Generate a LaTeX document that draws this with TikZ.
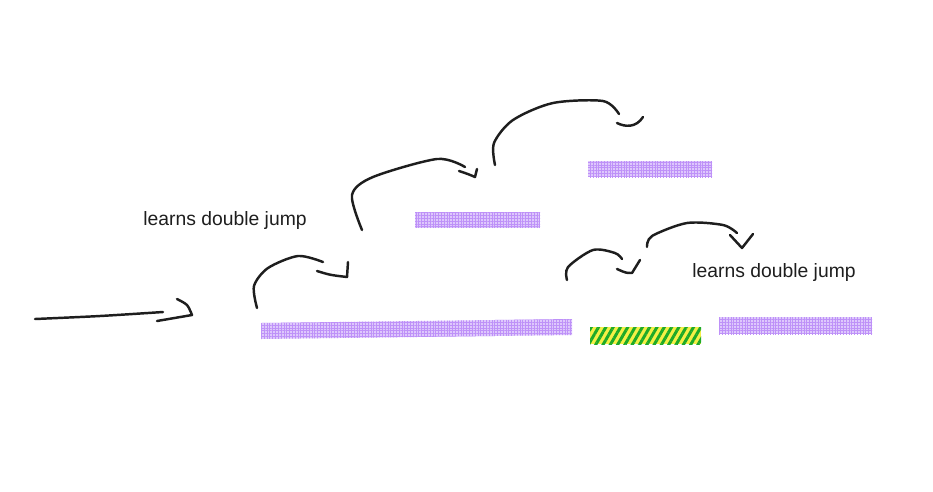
\documentclass[tikz,border=0pt]{standalone}
\usepackage{fontspec}
\setmainfont{Liberation Sans}
\usetikzlibrary{patterns.meta}

\definecolor{ink}{RGB}{30,30,30}
\definecolor{lilac}{RGB}{222,200,252}
\definecolor{lilacgrid}{RGB}{190,145,248}
\definecolor{spikeyellow}{RGB}{245,240,70}
\definecolor{spikegreen}{RGB}{30,170,40}

\tikzset{
  pen/.style={draw=ink, line width=1.4pt, line cap=round, line join=round},
  platform/.style={fill=lilac, pattern color=lilacgrid,
    postaction={pattern={Hatch[distance=1.6pt, line width=0.45pt]}, pattern color=lilacgrid}},
  spikes/.style={fill=spikeyellow,
    postaction={pattern={Lines[angle=60, distance=3.6pt, line width=1.7pt]}, pattern color=spikegreen}},
  note/.style={text=ink, font=\fontsize{11}{13}\selectfont, inner sep=0pt}
}

\begin{document}
\begin{tikzpicture}[x=0.02cm, y=-0.02cm]
          \useasboundingbox (0,0) rectangle (933,491);
          % platforms
          \fill[platform] (261,323) -- (572,319) -- (572,335) -- (261,339) -- cycle;
          \fill[platform] (415,212) rectangle (540,228);
          \fill[platform] (588,161) rectangle (712,177);
          \fill[platform] (719,317) rectangle (872,334);
          \fill[spikes] (590,327) rectangle (701,344);
          % run in
          \draw[pen] plot[smooth] coordinates {(35,319) (100,316) (163,312)};
          \draw[pen] plot[smooth] coordinates {(177,299) (187,305) (192,315)}
            -- (157,321);
          % jumps
          \draw[pen] plot[smooth] coordinates {(257,308) (254,286) (268,268) (298,256) (323,262)};
          \draw[pen] (317,271) .. controls (330,275) .. (347,277) -- (348,262);
          \draw[pen] plot[smooth] coordinates {(362,230) (352,195) (373,177) (437,159) (465,167)};
          \draw[pen] (459,171) .. controls (468,174) .. (475,177) -- (477,169);
          \draw[pen] plot[smooth] coordinates {(495,165) (494,143) (513,120) (553,103) (603,101) (619,114)};
          \draw[pen] (617,123) .. controls (625,127) and (636,128) .. (643,117);
          \draw[pen] plot[smooth] coordinates {(567,280) (568,267) (593,250) (615,253) (622,259)};
          \draw[pen] (617,269) .. controls (626,273) .. (632,273) -- (640,260);
          \draw[pen] plot[smooth] coordinates {(647,247) (652,236) (687,223) (723,225) (737,233)};
          \draw[pen] (730,235) -- (742,248) -- (753,234);
          % labels
          \node[note] (dj1) at (225,220) {learns double jump};
          \node[note] (dj2) at (774,272) {learns double jump};
        \end{tikzpicture}
\end{document}
